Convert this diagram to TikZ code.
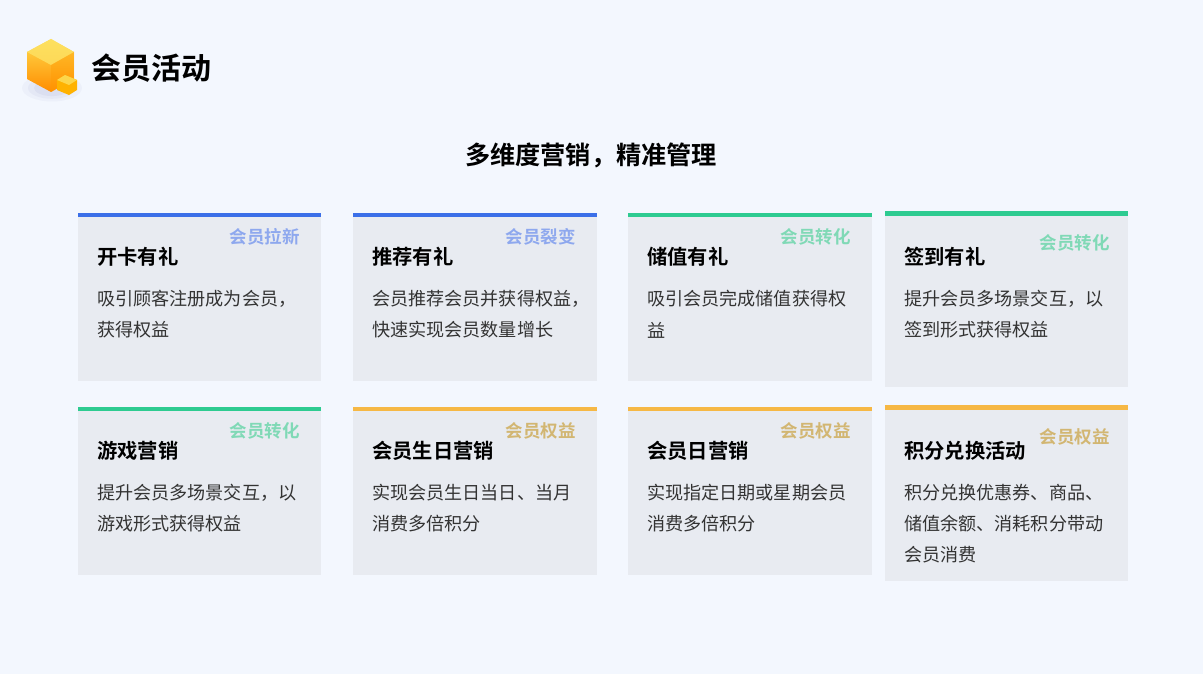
\documentclass[tikz,border=0pt]{standalone}
\usepackage{fontspec}
\setmainfont{Noto Sans CJK SC}[BoldFont={Noto Sans CJK SC Bold}]
\usetikzlibrary{shadings}
\definecolor{bg}{HTML}{F3F7FE}
\definecolor{card}{HTML}{E8EBF1}
\definecolor{cblue}{HTML}{3B6FE8}
\definecolor{cgreen}{HTML}{2ECB91}
\definecolor{cyel}{HTML}{F6B845}
\definecolor{tblue}{HTML}{8EA8EE}
\definecolor{tgreen}{HTML}{80D9B6}
\definecolor{tyel}{HTML}{D2B672}
\definecolor{txt}{HTML}{333333}
\tikzset{
 ttl/.style={anchor=west,font=\bfseries\fontsize{20.3}{20}\selectfont,text=black,inner sep=0},
 dsc/.style={anchor=west,font=\fontsize{18.1}{18}\selectfont,text=txt,inner sep=0},
 tag/.style={anchor=east,font=\bfseries\fontsize{17.5}{18}\selectfont,inner sep=0},
}
\newcommand{\mycard}[9]{% name x1 y1 x2 y2 bar tagcolor tag title
 \fill[card] (#2,#3) rectangle (#4,#5);
 \fill[#6] (#2,#3) rectangle (#4,#3+4);
 \node[ttl] (#1t) at (#2+19,#3+44) {#9};
 \node[tag,text=#7] (#1g) at (#4-21,#3+24) {#8};
}
\begin{document}
\begin{tikzpicture}[x=1pt,y=-1pt]
\fill[bg] (0,0) rectangle (1203,674);
% icon
\foreach \r/\o in {30/0.04,24/0.05,18/0.06}{\fill[blue!30!gray,opacity=\o] (52,88) ellipse (\r pt and {\r*0.45 pt});}
\shade[top color=yellow!60!orange!70,bottom color=orange!90!yellow] (27,52) -- (51,39) -- (74,52) -- (74,79) -- (51,92) -- (27,79) -- cycle;
\fill[yellow!70!orange!60,opacity=0.8] (27,52) -- (51,39) -- (74,52) -- (51,65) -- cycle;
\fill[orange!80!yellow,opacity=0.35] (51,65) -- (74,52) -- (74,79) -- (51,92) -- cycle;
\fill[orange!60!yellow] (57,80) -- (65,75) -- (77,80) -- (77,90) -- (69,95) -- (57,90) -- cycle;
\fill[yellow!60!orange!70] (57,80) -- (65,75) -- (77,80) -- (69,85) -- cycle;
\node[anchor=west,inner sep=0,font=\bfseries\fontsize{30}{30}\selectfont] (hd) at (91,68) {会员活动};
\node[inner sep=0,font=\bfseries\fontsize{25.2}{26}\selectfont] (sub) at (591,155) {多维度营销，精准管理};
% row 1
\mycard{a}{78}{213}{321}{381}{cblue}{tblue}{会员拉新}{开卡有礼}
\node[dsc] (ad1) at (97,299) {吸引顾客注册成为会员，};
\node[dsc] (ad2) at (97,330) {获得权益};
\mycard{b}{353}{213}{597}{381}{cblue}{tblue}{会员裂变}{推荐有礼}
\node[dsc] (bd1) at (372,299) {会员推荐会员并获得权益，};
\node[dsc] (bd2) at (372,330) {快速实现会员数量增长};
\mycard{c}{628}{213}{872}{381}{cgreen}{tgreen}{会员转化}{储值有礼}
\node[dsc] (cd1) at (647,299) {吸引会员完成储值获得权};
\node[dsc] (cd2) at (647,330) {益};
\fill[card] (885,211) rectangle (1128,387);
\fill[cgreen] (885,211) rectangle (1128,216);
\node[ttl] (dt) at (904,257) {签到有礼};
\node[tag,text=tgreen] (dg) at (1110,243) {会员转化};
\node[dsc] (dd1) at (904,299) {提升会员多场景交互，以};
\node[dsc] (dd2) at (904,330) {签到形式获得权益};
% row 2
\mycard{e}{78}{407}{321}{575}{cgreen}{tgreen}{会员转化}{游戏营销}
\node[dsc] (ed1) at (97,493) {提升会员多场景交互，以};
\node[dsc] (ed2) at (97,524) {游戏形式获得权益};
\mycard{f}{353}{407}{597}{575}{cyel}{tyel}{会员权益}{会员生日营销}
\node[dsc] (fd1) at (372,493) {实现会员生日当日、当月};
\node[dsc] (fd2) at (372,524) {消费多倍积分};
\mycard{g}{628}{407}{872}{575}{cyel}{tyel}{会员权益}{会员日营销}
\node[dsc] (gd1) at (647,493) {实现指定日期或星期会员};
\node[dsc] (gd2) at (647,524) {消费多倍积分};
\fill[card] (885,405) rectangle (1128,581);
\fill[cyel] (885,405) rectangle (1128,410);
\node[ttl] (ht) at (904,451) {积分兑换活动};
\node[tag,text=tyel] (hg) at (1110,437) {会员权益};
\node[dsc] (hd1) at (904,493) {积分兑换优惠券、商品、};
\node[dsc] (hd2) at (904,524) {储值余额、消耗积分带动};
\node[dsc] (hd3) at (904,555) {会员消费};
\end{tikzpicture}
\end{document}
